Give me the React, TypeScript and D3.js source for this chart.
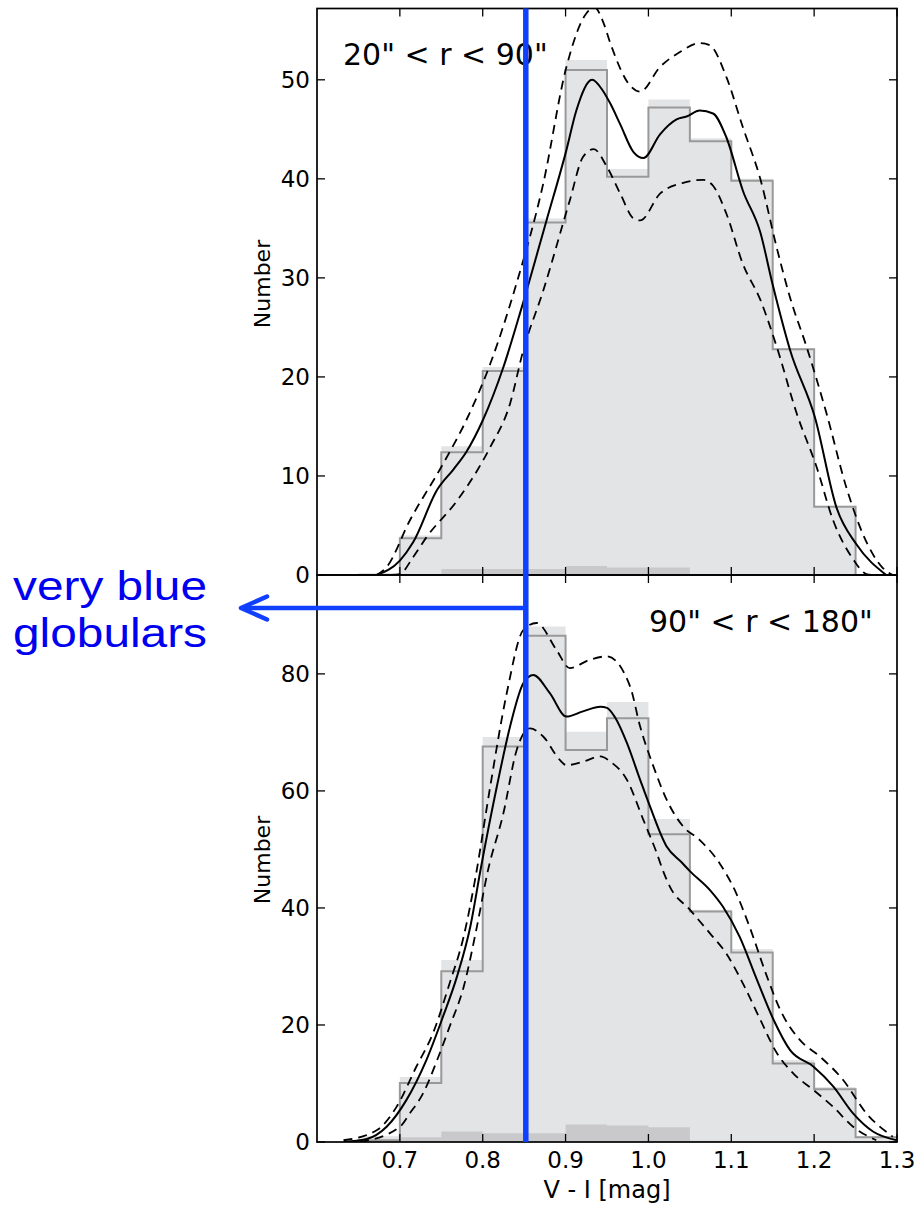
import React from "react";
import * as d3 from "d3";

// ---------- data ----------
const binStarts = [0.65, 0.7, 0.75, 0.8, 0.85, 0.9, 0.95, 1.0, 1.05, 1.1, 1.15, 1.2, 1.25];
const binWidth = 0.05;

const topOutline = [0, 3.7, 12.4, 20.6, 35.6, 51.0, 40.2, 47.2, 43.8, 39.8, 22.8, 6.9, 0];
const topFill = [0.2, 4.0, 13.0, 21.0, 36.0, 52.0, 41.0, 48.0, 44.1, 40.0, 22.9, 7.0, 0];
const topBg = [0, 0, 0.6, 0.6, 0.6, 0.9, 0.75, 0.75, 0, 0, 0, 0, 0];

const botOutline = [0.3, 10.1, 29.2, 67.6, 86.5, 67.0, 72.4, 52.6, 39.4, 32.4, 13.4, 9.0, 0.8];
const botFill = [1.0, 11.1, 31.1, 69.2, 88.1, 70.1, 75.2, 55.2, 39.7, 33.0, 14.0, 9.4, 1.0];
const botBg = [0.3, 0.8, 1.8, 1.5, 1.5, 3.0, 2.8, 2.5, 0.2, 0, 0, 0, 0];

type P = [number, number];
const topMid: P[] = [[0.672,0],[0.70,1.45],[0.716,3.3],[0.745,8.6],[0.765,10.7],[0.78,12.4],[0.80,15.6],[0.825,21.0],[0.847,27.0],[0.877,35.8],[0.901,42.9],[0.913,46.9],[0.932,50.0],[0.945,48.9],[0.954,47.6],[0.966,45.5],[0.982,42.7],[0.994,42.1],[1.014,44.5],[1.034,46.0],[1.046,46.3],[1.062,46.9],[1.078,46.6],[1.094,44.2],[1.114,38.8],[1.135,34.6],[1.15,29.3],[1.171,22.7],[1.201,15.9],[1.227,6.8],[1.251,3.1],[1.287,0]];
const topHigh: P[] = [[0.672,0],[0.684,0.8],[0.712,5.5],[0.752,11.2],[0.78,15.6],[0.809,21.3],[0.841,29.5],[0.873,39.5],[0.901,51.3],[0.925,56.7],[0.935,57.3],[0.946,55.7],[0.954,53.7],[0.978,49.4],[0.990,48.8],[1.014,51.3],[1.038,52.8],[1.062,53.7],[1.074,53.5],[1.094,50.3],[1.114,45.2],[1.135,40.0],[1.155,33.0],[1.171,28.0],[1.191,23.0],[1.215,16.3],[1.239,8.8],[1.259,4.1],[1.283,0.7],[1.295,0]];
const topLow: P[] = [[0.69,0],[0.70,0.1],[0.716,1.8],[0.732,3.8],[0.769,7.5],[0.793,10.5],[0.809,12.9],[0.833,17.3],[0.849,22.7],[0.873,28.7],[0.905,37.8],[0.921,42.2],[0.934,43.0],[0.950,41.2],[0.966,38.5],[0.982,36.0],[0.990,35.8],[1.014,38.5],[1.042,39.6],[1.066,39.9],[1.078,39.3],[1.094,36.5],[1.114,31.4],[1.135,27.8],[1.155,23.0],[1.179,16.3],[1.203,10.9],[1.223,5.5],[1.247,1.6],[1.263,0.1],[1.27,0]];

const botMid: P[] = [[0.632,0],[0.660,0.5],[0.684,2.6],[0.708,7.2],[0.732,14.0],[0.752,21.4],[0.769,28.3],[0.785,36.8],[0.798,47.0],[0.817,60.7],[0.833,71.0],[0.849,78.4],[0.861,79.8],[0.881,76.7],[0.901,72.7],[0.921,73.6],[0.942,74.4],[0.950,74.2],[0.960,72.5],[0.974,68.2],[0.990,61.9],[1.002,57.3],[1.022,50.5],[1.040,47.8],[1.050,46.3],[1.074,43.1],[1.090,40.2],[1.110,35.1],[1.131,27.7],[1.151,20.9],[1.171,15.7],[1.199,12.9],[1.223,9.5],[1.247,4.9],[1.271,1.8],[1.30,0.3]];
const botHigh: P[] = [[0.632,0.3],[0.672,2.0],[0.696,6.0],[0.720,12.9],[0.740,18.6],[0.760,27.1],[0.777,35.1],[0.791,45.0],[0.809,60.7],[0.829,76.7],[0.849,87.5],[0.865,88.7],[0.889,84.1],[0.905,81.0],[0.929,82.4],[0.950,83.0],[0.978,77.8],[0.990,71.0],[1.006,64.2],[1.022,58.5],[1.042,53.9],[1.062,51.6],[1.086,47.6],[1.106,42.5],[1.122,36.8],[1.143,28.3],[1.159,22.6],[1.183,17.4],[1.207,14.6],[1.235,10.6],[1.263,4.9],[1.295,0.9]];
const botLow: P[] = [[0.652,0],[0.70,2.6],[0.712,4.9],[0.728,8.3],[0.745,14.0],[0.760,19.7],[0.777,26.5],[0.793,36.8],[0.806,46.2],[0.825,56.2],[0.841,67.0],[0.857,70.7],[0.873,69.3],[0.893,65.3],[0.901,64.4],[0.921,65.0],[0.942,65.9],[0.954,65.0],[0.974,61.9],[0.994,55.0],[1.010,49.4],[1.018,46.2],[1.026,43.6],[1.050,39.7],[1.074,35.7],[1.094,32.2],[1.114,27.1],[1.135,20.9],[1.155,15.2],[1.175,11.7],[1.199,8.9],[1.223,6.0],[1.247,2.6],[1.275,0.3]];

const xTicks = [0.7, 0.8, 0.9, 1.0, 1.1, 1.2, 1.3];
const xTickLabels = ["0.7", "0.8", "0.9", "1.0", "1.1", "1.2", "1.3"];
const topYTicks = [0, 10, 20, 30, 40, 50];
const botYTicks = [0, 20, 40, 60, 80];
const topLabel = '20" < r < 90"';
const botLabel = '90" < r < 180"';
const blueCut = 0.852;
const annotationLines = ["very blue", "globulars"];

// ---------- layout ----------
const W = 922, H = 1205;
const L = 317, R = 897;
const topT = 8.5, mid = 575, botB = 1142;
const FONT = "DejaVu Sans, sans-serif";

const x = d3.scaleLinear().domain([0.6, 1.3]).range([L, R]);
const yTop = d3.scaleLinear().domain([0, 57.2]).range([mid, topT]);
const yBot = d3.scaleLinear().domain([0, 96.9]).range([botB, mid]);

function stepPath(vals: number[], y: d3.ScaleLinear<number, number>, close: boolean) {
  const p = d3.path();
  vals.forEach((v, i) => {
    const x0 = x(binStarts[i]);
    const x1 = x(binStarts[i] + binWidth);
    if (i === 0) p.moveTo(x0, y(0));
    p.lineTo(x0, y(v));
    p.lineTo(x1, y(v));
  });
  const last = binStarts[binStarts.length - 1] + binWidth;
  p.lineTo(x(last), y(0));
  if (close) p.closePath();
  return p.toString();
}

function Panel({ outline, fill, bg, curves, y, ticks, label, labelX, labelY, clipId }: any) {
  const line = d3.line<P>().x((d) => x(d[0])).y((d) => y(d[1])).curve(d3.curveMonotoneX);
  const [y0, y1] = y.range();
  return (
    <g>
      <defs>
        <clipPath id={clipId}>
          <rect x={L} y={y1} width={R - L} height={y0 - y1} />
        </clipPath>
      </defs>
      <g clipPath={`url(#${clipId})`}>
        <path d={stepPath(fill, y, true)} fill="#e3e4e6" stroke="none" />
        <path d={stepPath(bg, y, true)} fill="#c9c9cb" stroke="none" />
        <path d={stepPath(outline, y, false)} fill="none" stroke="#999" strokeWidth={2} />
        <path d={line(curves[1]) || ""} fill="none" stroke="#000" strokeWidth={1.8} strokeDasharray="9,6" />
        <path d={line(curves[2]) || ""} fill="none" stroke="#000" strokeWidth={1.8} strokeDasharray="9,6" />
        <path d={line(curves[0]) || ""} fill="none" stroke="#000" strokeWidth={2} />
      </g>
      {ticks.map((t: number) => (
        <g key={"yt" + t}>
          <line x1={L} x2={L + 8} y1={y(t)} y2={y(t)} stroke="#000" strokeWidth={1.3} />
          <line x1={R} x2={R - 8} y1={y(t)} y2={y(t)} stroke="#000" strokeWidth={1.3} />
          <text x={L - 7} y={y(t)} dy="0.36em" textAnchor="end" fontFamily={FONT} fontSize={23} fill="#000">{t}</text>
        </g>
      ))}
      {xTicks.map((t) => (
        <g key={"xt" + t}>
          <line x1={x(t)} x2={x(t)} y1={y0} y2={y0 - 8} stroke="#000" strokeWidth={1.3} />
          <line x1={x(t)} x2={x(t)} y1={y1} y2={y1 + 8} stroke="#000" strokeWidth={1.3} />
        </g>
      ))}
      <rect x={L} y={y1} width={R - L} height={y0 - y1} fill="none" stroke="#000" strokeWidth={1.7} />
      <text x={labelX} y={labelY} fontFamily={FONT} fontSize={30} fill="#000">{label}</text>
    </g>
  );
}

export default function App() {
  const bx = x(blueCut);
  const arrowY = 608;
  const tipX = 241;
  return (
    <svg width={W} height={H} style={{ position: "absolute", left: 0, top: 0, background: "#fff" }}>
      <rect width={W} height={H} fill="#fff" />
      <Panel outline={topOutline} fill={topFill} bg={topBg} curves={[topMid, topHigh, topLow]} y={yTop} ticks={topYTicks} label={topLabel} labelX={343} labelY={65} clipId="clipTop" />
      <Panel outline={botOutline} fill={botFill} bg={botBg} curves={[botMid, botHigh, botLow]} y={yBot} ticks={botYTicks} label={botLabel} labelX={649} labelY={632} clipId="clipBot" />
      {xTicks.map((t, i) => (
        <text key={"xl" + t} x={x(t)} y={1168} textAnchor="middle" fontFamily={FONT} fontSize={23} fill="#000">{xTickLabels[i]}</text>
      ))}
      <text x={(L + R) / 2} y={1198} textAnchor="middle" fontFamily={FONT} fontSize={24} fill="#000">V - I [mag]</text>
      <text transform={`translate(270,284) rotate(-90)`} textAnchor="middle" fontFamily={FONT} fontSize={22} fill="#000">Number</text>
      <text transform={`translate(270,860) rotate(-90)`} textAnchor="middle" fontFamily={FONT} fontSize={22} fill="#000">Number</text>
      <line x1={bx} x2={bx} y1={topT} y2={botB} stroke="#1040ff" strokeWidth={5.5} />
      <line x1={bx} x2={tipX + 2} y1={arrowY} y2={arrowY} stroke="#1040ff" strokeWidth={4.5} />
      <polyline points={`${tipX + 26},${arrowY - 11.5} ${tipX},${arrowY} ${tipX + 26},${arrowY + 11.5}`} fill="none" stroke="#1040ff" strokeWidth={4.5} strokeLinecap="round" strokeLinejoin="round" />
      {annotationLines.map((s, i) => (
        <text key={s} x={13} y={600 + i * 47} fontFamily="Liberation Sans, Arial, sans-serif" fontSize={40} fill="#0000f0" textLength={194} lengthAdjust="spacingAndGlyphs">{s}</text>
      ))}
    </svg>
  );
}
